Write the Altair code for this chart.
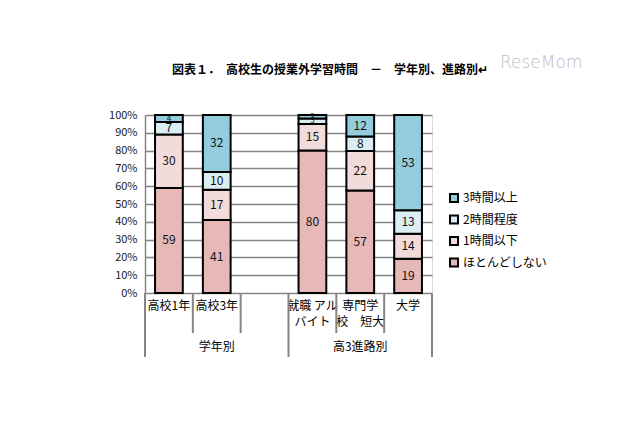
import altair as alt
import pandas as pd

FONT = "Noto Sans CJK JP"

categories = ["高校1年", "高校3年", " ", "就職 アル|バイト", "専門学|校　短大", "大学"]
series_stack = ["ほとんどしない", "1時間以下", "2時間程度", "3時間以上"]
legend_order = ["3時間以上", "2時間程度", "1時間以下", "ほとんどしない"]
legend_colors = ["#93CDDD", "#DBEEF4", "#F2DCDB", "#E6B9B8"]

v_hotondo = [59, 41, None, 80, 57, 19]
v_1h = [30, 17, None, 15, 22, 14]
v_2h = [7, 10, None, 3, 8, 13]
v_3h = [4, 32, None, 2, 12, 53]

y_ticks = [0, 0.1, 0.2, 0.3, 0.4, 0.5, 0.6, 0.7, 0.8, 0.9, 1.0]

groups = ["学年別", "高3進路別"]
group_centers = [1.5, 4.5]
long_bounds = [0, 3, 6]
short_bounds = [1, 2, 4, 5]

title_text = "図表１．　高校生の授業外学習時間　－　学年別、進路別↵"

rows = []
for si, (s, vals) in enumerate(zip(series_stack, [v_hotondo, v_1h, v_2h, v_3h])):
    for c, v in zip(categories, vals):
        if v is not None:
            rows.append({"cat": c, "series": s, "ord": si, "value": v})
df = pd.DataFrame(rows)

W, H = 287, 178

base = alt.Chart(df).transform_stack(
    stack="value", groupby=["cat"], as_=["y0", "y1"],
    sort=[alt.SortField("ord", order="ascending")], offset="normalize"
)

xscale = alt.Scale(domain=categories, paddingInner=0.42, paddingOuter=0.21)
yscale = alt.Scale(domain=[0, 1], nice=False)

yaxis = alt.Axis(
    title=None, format="%", values=y_ticks, tickCount=11,
    grid=True, gridColor="#858585", gridWidth=1.5,
    domain=True, domainColor="#858585", domainWidth=1.5,
    ticks=False, labelPadding=8, labelFontSize=11, labelOverlap=False,
    labelColor="#1a1a1a", labelFont=FONT,
)

xband = alt.X(
    "cat:N", scale=xscale, sort=categories,
    axis=alt.Axis(
        title=None, labelAngle=0, ticks=False, domain=False,
        labelExpr="split(datum.label, '|')", labelBaseline="top",
        labelPadding=7, labelLineHeight=16, labelFontSize=12,
        labelColor="#000", labelFont=FONT,
    ),
)

bars = base.mark_bar(stroke="black", strokeWidth=2).encode(
    x=xband,
    y=alt.Y("y0:Q", scale=yscale, axis=yaxis),
    y2="y1:Q",
    color=alt.Color(
        "series:N",
        scale=alt.Scale(domain=legend_order, range=legend_colors),
        legend=alt.Legend(
            title=None, orient="none", legendX=303, legendY=77,
            symbolType="square", symbolSize=64, symbolStrokeColor="black",
            symbolStrokeWidth=2, labelFontSize=12, labelFont=FONT,
            rowPadding=5.5, labelOffset=3, labelColor="#000",
        ),
    ),
)

labels = base.transform_calculate(mid="(datum.y0 + datum.y1) / 2").mark_text(
    font=FONT, color="#111"
).encode(
    x=alt.X("cat:N", scale=xscale, sort=categories),
    y=alt.Y("mid:Q", scale=yscale, axis=yaxis),
    text="value:Q",
    size=alt.condition("datum.value < 5", alt.value(8), alt.value(12)),
)

band_layer = alt.layer(bars, labels)

xq = alt.X("b:Q", scale=alt.Scale(domain=[0, 6], nice=False, zero=False), axis=None)

long_rules = alt.Chart(pd.DataFrame({"b": long_bounds})).mark_rule(
    color="#858585", strokeWidth=2
).encode(x=xq, y=alt.value(H), y2=alt.value(H + 64))

short_rules = alt.Chart(pd.DataFrame({"b": short_bounds})).mark_rule(
    color="#858585", strokeWidth=2
).encode(x=xq, y=alt.value(H), y2=alt.value(H + 40))

group_text = alt.Chart(pd.DataFrame({"g": groups, "b": group_centers})).mark_text(
    fontSize=12, font=FONT, color="#000", baseline="middle"
).encode(x=xq, y=alt.value(H + 54), text="g:N")

title_mark = alt.Chart(pd.DataFrame({"t": [title_text]})).mark_text(
    fontSize=12, font=FONT, color="#000", fontWeight="bold", align="left", baseline="middle"
).encode(x=alt.value(27), y=alt.value(-45), text="t:N")

watermark = alt.Chart(pd.DataFrame({"w": ["ReseMom"]})).mark_text(
    fontSize=17, font="DejaVu Sans", color="#bdbdbd", fontWeight=300, align="left"
).encode(x=alt.value(355), y=alt.value(-52), text="w:N")

q_layer = alt.layer(long_rules, short_rules, group_text, title_mark, watermark)

chart = alt.layer(band_layer, q_layer).resolve_scale(x="independent").properties(
    width=W, height=H,
    autosize=alt.AutoSizeParams(type="none"),
    padding={"left": 137, "top": 107, "right": 200, "bottom": 125},
).configure_view(stroke=None).configure(background="white")

chart.save("out.html", embed_options={"renderer": "svg", "actions": False})
